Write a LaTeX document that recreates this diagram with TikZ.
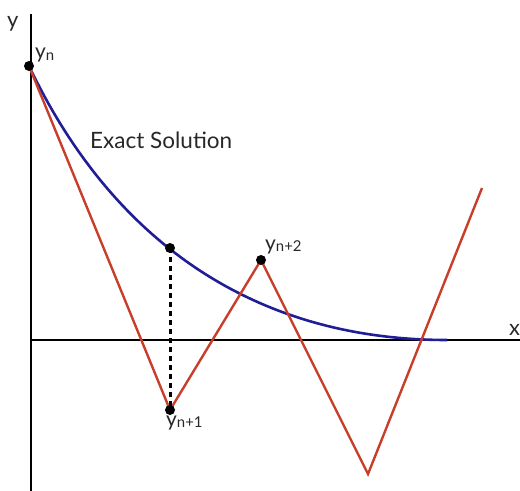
\documentclass[tikz,border=0pt]{standalone}
\usepackage{fontspec}
\setmainfont{Lato}
\newcommand\subtx[1]{\raisebox{-1.5bp}{\fontsize{15}{15}\selectfont #1}}
\definecolor{eulerred}{RGB}{200,62,42}
\definecolor{exactblue}{RGB}{32,30,150}
\definecolor{txtgray}{RGB}{40,40,40}
\begin{document}
\begin{tikzpicture}[x=1bp,y=-1bp,
  axisline/.style={line width=2bp,black},
  eulerline/.style={line width=2.4bp,eulerred,line join=miter},
  exactline/.style={line width=2.6bp,exactblue},
  dropline/.style={line width=3bp,black,dash pattern=on 5bp off 4bp},
  dot/.style={circle,fill=black,inner sep=0pt,minimum size=10bp},
  lbl/.style={text=txtgray,inner sep=0pt,font=\fontsize{21}{24}\selectfont}]
\useasboundingbox (0,0) rectangle (520,491);
% axes
\coordinate (ytop) at (31,14);
\coordinate (ybot) at (31,491);
\coordinate (xleft) at (31,340);
\coordinate (xright) at (520,340);
\draw[axisline] (ybot) -- (ytop);
\draw[axisline] (xleft) -- (xright);
\node[lbl,anchor=base west,font=\fontsize{22}{24}\selectfont] (ylab) at (7,28) {y};
\node[lbl,anchor=base west,font=\fontsize{22}{24}\selectfont] (xlab) at (509,335) {x};
% points
\coordinate (pn) at (29,66);
\coordinate (pe) at (170,248);
\coordinate (pn1) at (170,410);
\coordinate (pn2) at (261,260);
\coordinate (pn3) at (368,474);
\coordinate (pend) at (482,188);
\coordinate (pz) at (447,340);
% exact solution
\draw[exactline] (pn) .. controls (109,234) and (247,340) .. (pz);
% Euler steps
\draw[eulerline] (pn) -- (pn1) -- (pn2) -- (pn3) -- (pend);
% drop line
\draw[dropline] (pe) -- (pn1);
% dots
\node[dot] (dn) at (pn) {};
\node[dot] (de) at (pe) {};
\node[dot] (dn1) at (pn1) {};
\node[dot] (dn2) at (pn2) {};
% labels
\node[lbl,anchor=base west] (lyn) at (35,59) {y\subtx{n}};
\node[lbl,anchor=base west] (lyn1) at (166,426) {y\subtx{n+1}};
\node[lbl,anchor=base west] (lyn2) at (265,250) {y\subtx{n+2}};
\node[lbl,anchor=base west,font=\fontsize{22.6}{26}\selectfont] (lex) at (90,149) {Exact Solution};
\end{tikzpicture}
\end{document}
